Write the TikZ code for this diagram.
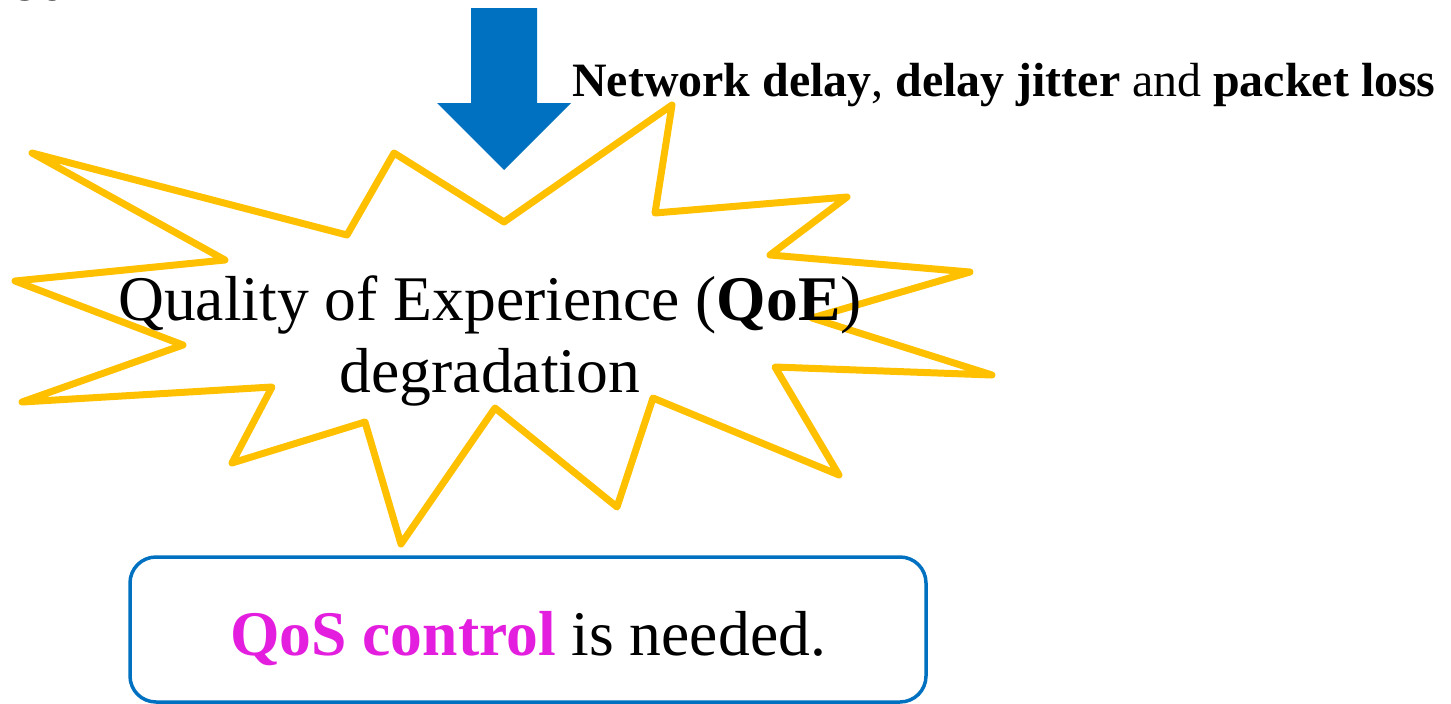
\documentclass[tikz,border=0pt]{standalone}
\usepackage{fontspec}
\setmainfont{Liberation Serif}
\definecolor{arrowblue}{RGB}{0,112,192}
\definecolor{burstyellow}{RGB}{255,192,0}
\definecolor{qosmagenta}{RGB}{228,30,222}
\tikzset{
  burst/.style={draw=burstyellow, line width=7pt, line join=round, line cap=round},
  bigtext/.style={inner sep=0pt, font=\fontsize{63.6}{72}\selectfont},
  causetext/.style={inner sep=0pt, font=\fontsize{47.9}{56}\selectfont},
  notebox/.style={draw=arrowblue, line width=3.5pt, rounded corners=26pt, inner sep=0pt},
}
\begin{document}
\begin{tikzpicture}[x=1pt, y=-1pt]
  \useasboundingbox (0,0) rectangle (1451,704);
  \clip (0,0) rectangle (1451,704);

  % tail of the line above, cut by the page edge
  \node[bigtext, anchor=base east] (prev) at (70,0.5) {ed};

  % downward arrow
  \fill[arrowblue] (471,8) -- (537,8) -- (537,103) -- (571,103) -- (504,170)
    -- (437,103) -- (471,103) -- cycle;
  \node[causetext, anchor=base west] (cause) at (572,96)
    {\textbf{Network delay}, \textbf{delay jitter} and \textbf{packet loss}};

  % explosion outline
  \draw[burst] (32,153) -- (347,235) -- (394,153) -- (504,222) -- (672,105)
    -- (655,213) -- (847,197) -- (770,255) -- (970,272) -- (812,318)
    -- (992,375) -- (775,367) -- (839,475) -- (653,398) -- (617,507)
    -- (495,408) -- (401,544) -- (365,422) -- (232,463) -- (272,387)
    -- (22,402) -- (183,345) -- (15,281) -- (225,260) -- cycle;

  % base anchor sits on the last line
  \node[bigtext, anchor=base, align=center] (qoe) at (490,392)
    {Quality of Experience (\textbf{QoE})\\degradation};

  % conclusion box
  \node[notebox, minimum width=796pt, minimum height=145pt] (box) at (528,629.5) {};
  \node[bigtext, anchor=base] (qos) at (528,655)
    {\textcolor{qosmagenta}{\textbf{QoS control}} is needed.};
\end{tikzpicture}
\end{document}
